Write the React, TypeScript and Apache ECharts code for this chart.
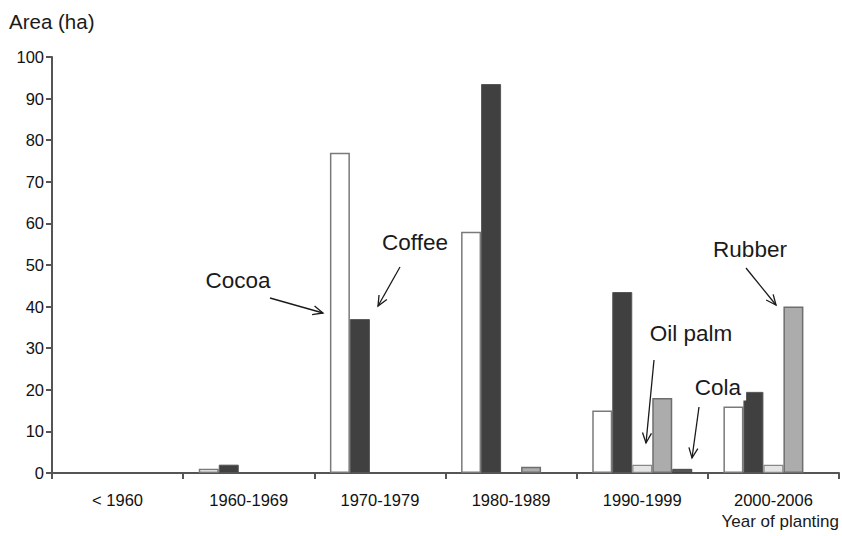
import React, { useEffect, useRef } from "react";
import * as echarts from "echarts";

const categories = ["< 1960", "1960-1969", "1970-1979", "1980-1989", "1990-1999", "2000-2006"];
const cocoa = [null, 1, 77, 58, 15, 16];
const coffee = [null, 2, 37, 93.5, 43.5, 19.5];
const oilPalm = [null, null, null, null, 2, 2];
const rubber = [null, null, null, 1.5, 18, 40];
const cola = [null, null, null, null, 1, null];

const yMin = 0;
const yMax = 100;
const yInterval = 10;

const FONT = "'Liberation Sans', Arial, Helvetica, sans-serif";

type Ann = { text: string; tx: number; ty: number; x1: number; y1: number; x2: number; y2: number; bg?: boolean };
const annotations: Ann[] = [
  { text: "Cocoa", tx: 238, ty: 280, x1: 270, y1: 298, x2: 323, y2: 313 },
  { text: "Coffee", tx: 415, ty: 242, x1: 400, y1: 267, x2: 378, y2: 306 },
  { text: "Rubber", tx: 750, ty: 249, x1: 746, y1: 268, x2: 776, y2: 305 },
  { text: "Oil palm", tx: 691, ty: 333, x1: 654, y1: 360, x2: 646, y2: 443 },
  { text: "Cola", tx: 718, ty: 387, x1: 699, y1: 407, x2: 692, y2: 458, bg: true },
];

function arrowGraphics(a: Ann) {
  const ang = Math.atan2(a.y2 - a.y1, a.x2 - a.x1);
  const len = 11;
  const spread = 0.42;
  const p1 = [a.x2 - len * Math.cos(ang - spread), a.y2 - len * Math.sin(ang - spread)];
  const p2 = [a.x2 - len * Math.cos(ang + spread), a.y2 - len * Math.sin(ang + spread)];
  return [
    {
      type: "text",
      x: a.tx,
      y: a.ty,
      z: 10,
      style: {
        text: a.text,
        fill: "#1a1a1a",
        font: `22.5px ${FONT}`,
        align: "center",
        verticalAlign: "middle",
        backgroundColor: a.bg ? "#ffffff" : undefined,
        padding: a.bg ? [2, 5] : 0,
      },
    },
    {
      type: "line",
      z: 10,
      shape: { x1: a.x1, y1: a.y1, x2: a.x2, y2: a.y2 },
      style: { stroke: "#1a1a1a", lineWidth: 1.3 },
    },
    {
      type: "polyline",
      z: 10,
      shape: { points: [p1, [a.x2, a.y2], p2] },
      style: { stroke: "#1a1a1a", lineWidth: 1.3, fill: null },
    },
  ];
}

export default function App() {
  const ref = useRef<HTMLDivElement>(null);
  useEffect(() => {
    if (!ref.current) return;
    const chart = echarts.init(ref.current, null, { renderer: "svg" });
    const barBase = { type: "bar", barWidth: 20, barGap: "0%" };
    const option: any = {
      animation: false,
      backgroundColor: "#ffffff",
      grid: { left: 52, right: 3, top: 57, bottom: 63, containLabel: false },
      xAxis: {
        type: "category",
        data: categories,
        boundaryGap: true,
        axisLine: { lineStyle: { color: "#555", width: 2 } },
        axisTick: { show: true, length: 6, alignWithLabel: false, lineStyle: { color: "#555", width: 2 } },
        axisLabel: { margin: 18, color: "#111", fontSize: 16.5, fontFamily: FONT },
        splitLine: { show: false },
      },
      yAxis: {
        type: "value",
        min: yMin,
        max: yMax,
        interval: yInterval,
        axisLine: { show: true, lineStyle: { color: "#555", width: 2 } },
        axisTick: { show: true, length: 6, lineStyle: { color: "#555", width: 2 } },
        axisLabel: { margin: 8, color: "#111", fontSize: 16.5, fontFamily: FONT },
        splitLine: { show: false },
      },
      series: [
        { ...barBase, name: "Cocoa", data: cocoa, itemStyle: { color: "#ffffff", borderColor: "#7a7a7a", borderWidth: 1.5 } },
        { ...barBase, name: "Coffee", data: coffee, itemStyle: { color: "#404040", borderColor: "#555", borderWidth: 1 } },
        { ...barBase, name: "Oil palm", data: oilPalm, itemStyle: { color: "#e4e4e4", borderColor: "#888", borderWidth: 1.2 } },
        { ...barBase, name: "Rubber", data: rubber, itemStyle: { color: "#acacac", borderColor: "#6e6e6e", borderWidth: 1.5 } },
        { ...barBase, name: "Cola", data: cola, itemStyle: { color: "#555555", borderColor: "#444", borderWidth: 1 } },
      ],
      graphic: [
        {
          type: "text",
          left: 9,
          top: 11,
          style: { text: "Area (ha)", fill: "#1a1a1a", font: `20.5px ${FONT}` },
        },
        {
          type: "text",
          right: 3,
          top: 513,
          style: { text: "Year of planting", fill: "#1a1a1a", font: `17px ${FONT}` },
        },
        ...annotations.flatMap(arrowGraphics),
      ],
    };
    chart.setOption(option);
    return () => chart.dispose();
  }, []);
  return <div ref={ref} style={{ position: "fixed", left: 0, top: 0, width: 842, height: 536 }} />;
}
